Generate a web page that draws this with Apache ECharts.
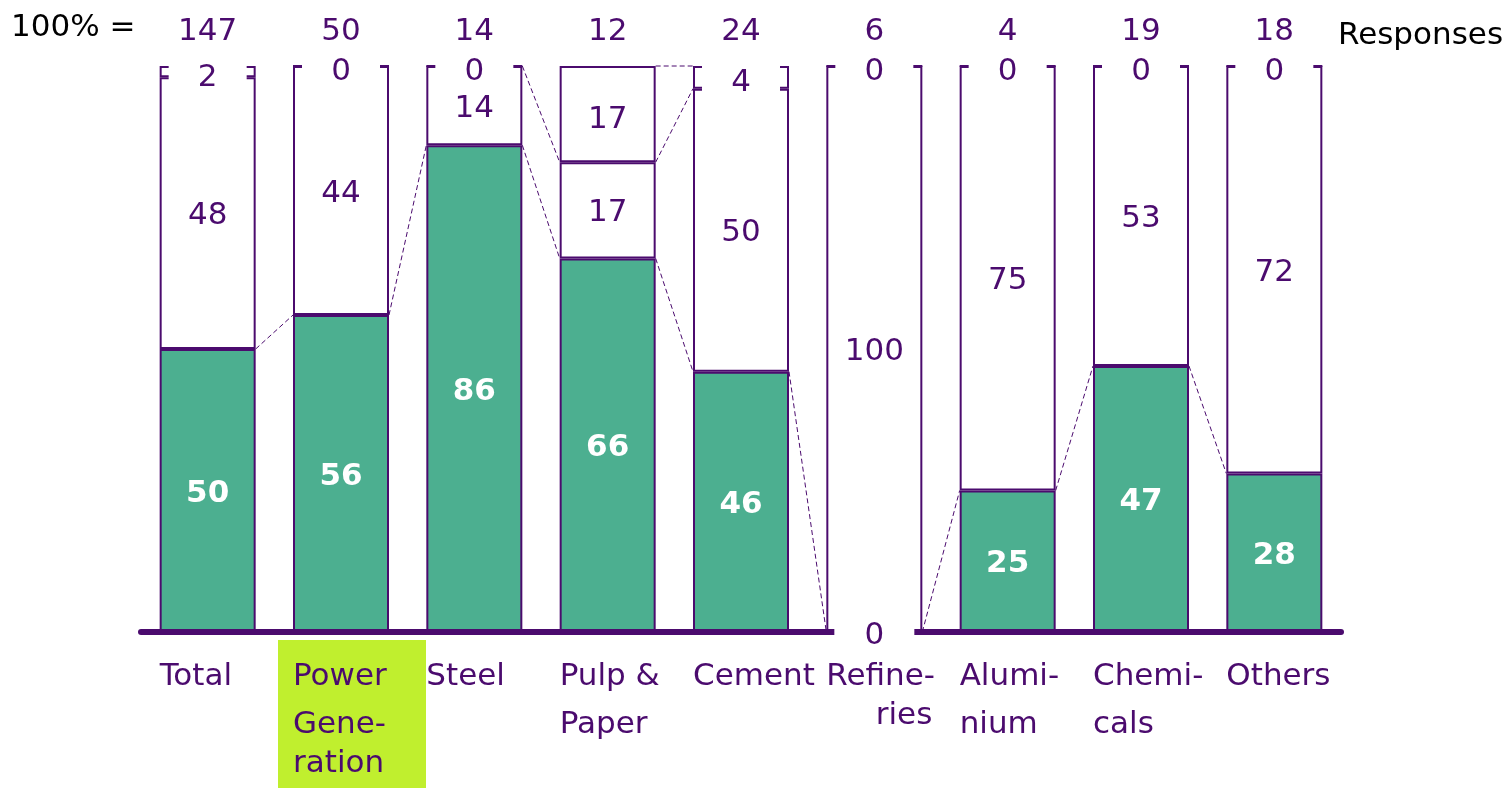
<!DOCTYPE html>
<html>
<head>
<meta charset="utf-8">
<script src="https://cdn.jsdelivr.net/npm/echarts@6/dist/echarts.min.js"></script>
<style>
  html, body { margin: 0; padding: 0; background: #ffffff; }
  #chart { width: 1511px; height: 788px; }
</style>
</head>
<body>
<div id="chart"></div>
<script>
// Responses by sector, split into three answer shares (percent of each sector's responses)
const categories = ['Total', 'Power Generation', 'Steel', 'Pulp & Paper', 'Cement', 'Refineries', 'Aluminium', 'Chemicals', 'Others'];
const categoryLabelLines = [['Total'], ['Power', 'Gene-', 'ration'], ['Steel'], ['Pulp &', 'Paper'], ['Cement'], ['Refine-', 'ries'], ['Alumi-', 'nium'], ['Chemi-', 'cals'], ['Others']];
const responses = [147, 50, 14, 12, 24, 6, 4, 19, 18];
const bottomShare = [50, 56, 86, 66, 46, 0, 25, 47, 28];
const middleShare = [48, 44, 14, 17, 50, 100, 75, 53, 72];
const topShare = [2, 0, 0, 17, 4, 0, 0, 0, 0];
const highlightedCategory = 'Power Generation';
// Dashed links between neighbouring bars: [left category index, stack level]
// level 0 = top of bottom share, 1 = top of middle share, 2 = top of the bar
const connectors = [[0, 0], [1, 0], [2, 0], [3, 0], [4, 0], [5, 0], [6, 0], [7, 0], [2, 1], [3, 1], [3, 2]];

// Styling
const PURPLE = '#4B0B6E';
const GREEN = '#4CAF90';
const LIME = '#C0EF2E';
const FONT = '"DejaVu Sans", Verdana, sans-serif';
const FS = 31;
const BAR_RATIO = 0.72;
// Per-category label line layout (line gaps in px, per-line alignment)
const labelLayout = {
  1: { gaps: [48, 39] },
  5: { gaps: [39], align: ['left', 'right'], rightEdge: 106 }
};

function stackLevel(i, level) {
  const parts = [bottomShare[i], middleShare[i], topShare[i]];
  let sum = 0;
  for (let k = 0; k <= level; k++) sum += parts[k];
  return sum;
}

function textStyle(extra) {
  return Object.assign({
    font: FS + 'px ' + FONT,
    fill: PURPLE
  }, extra);
}

const chart = echarts.init(document.getElementById('chart'), null, { renderer: 'canvas' });

const option = {
  animation: false,
  backgroundColor: '#ffffff',
  grid: { left: 141, right: 170, top: 66, bottom: 156, outerBoundsMode: 'none', containLabel: false },
  xAxis: [
    {
      type: 'category',
      data: categories,
      z: 3,
      axisLine: { show: true, lineStyle: { color: PURPLE, width: 6, cap: 'round' } },
      axisTick: { show: false },
      axisLabel: { show: false },
      splitLine: { show: false }
    },
    {
      type: 'category',
      position: 'top',
      data: categories,
      axisLine: { show: false },
      axisTick: { show: false },
      splitLine: { show: false },
      axisLabel: {
        interval: 0,
        margin: 34,
        verticalAlign: 'middle',
        color: PURPLE,
        fontSize: FS,
        fontFamily: FONT,
        formatter: (v, idx) => String(responses[idx])
      }
    }
  ],
  yAxis: { type: 'value', min: 0, max: 100, show: false },
  graphic: [
    {
      type: 'text', x: 11, y: 28,
      style: textStyle({ text: '100% =', fill: '#000000', align: 'left', textAlign: 'left', verticalAlign: 'middle', textVerticalAlign: 'middle' })
    },
    {
      type: 'text', x: 1338, y: 36,
      style: textStyle({ text: 'Responses', fill: '#000000', align: 'left', textAlign: 'left', verticalAlign: 'middle', textVerticalAlign: 'middle' })
    }
  ],
  series: [
    {
      name: 'bottom',
      type: 'bar',
      stack: 'share',
      barWidth: (BAR_RATIO * 100) + '%',
      z: 2,
      data: bottomShare,
      itemStyle: { color: GREEN, borderColor: PURPLE, borderWidth: 2 },
      label: {
        show: true, position: 'inside', offset: [0, 3],
        color: '#ffffff', fontWeight: 'bold', fontSize: FS, fontFamily: FONT,
        formatter: p => (p.value === 0 ? '' : String(p.value))
      }
    },
    {
      name: 'middle',
      type: 'bar',
      stack: 'share',
      barWidth: (BAR_RATIO * 100) + '%',
      z: 2,
      data: middleShare,
      itemStyle: { color: '#ffffff', borderColor: PURPLE, borderWidth: 2 },
      label: {
        show: true, position: 'inside', offset: [0, 3],
        color: PURPLE, fontSize: FS, fontFamily: FONT
      }
    },
    {
      name: 'top',
      type: 'bar',
      stack: 'share',
      barWidth: (BAR_RATIO * 100) + '%',
      z: 2,
      data: topShare,
      itemStyle: { color: '#ffffff', borderColor: PURPLE, borderWidth: 2 },
      label: {
        show: true, position: 'inside', offset: [0, 6],
        color: PURPLE, fontSize: FS, fontFamily: FONT,
        backgroundColor: '#ffffff', width: 78, height: 40, lineHeight: 40,
        align: 'center', verticalAlign: 'middle'
      }
    },
    {
      name: 'connectors',
      type: 'custom',
      z: 1,
      silent: true,
      clip: false,
      data: connectors,
      encode: { x: 0 },
      renderItem(params, api) {
        const i = api.value(0);
        const level = api.value(1);
        const a = api.coord([i, stackLevel(i, level)]);
        const b = api.coord([i + 1, stackLevel(i + 1, level)]);
        const half = api.size([1, 0])[0] * BAR_RATIO / 2;
        return {
          type: 'line',
          shape: { x1: a[0] + half, y1: a[1], x2: b[0] - half, y2: b[1] },
          style: { stroke: PURPLE, lineWidth: 1, lineDash: [5, 3] }
        };
      }
    },
    {
      name: 'categoryLabels',
      type: 'custom',
      z: 10,
      silent: true,
      clip: false,
      data: categories.map((c, i) => [i, 0]),
      encode: { x: 0, y: 1 },
      renderItem(params, api) {
        const i = api.value(0);
        const base = api.coord([i, 0]);
        const band = api.size([1, 0])[0];
        const left = base[0] - band * BAR_RATIO / 2;
        const layout = labelLayout[i] || {};
        const children = [];
        if (categories[i] === highlightedCategory) {
          children.push({
            type: 'rect',
            shape: { x: base[0] - 63, y: base[1] + 8, width: 148, height: 200 },
            style: { fill: LIME }
          });
        }
        let y = base[1] + 45;
        categoryLabelLines[i].forEach((line, k) => {
          if (k > 0) y += (layout.gaps && layout.gaps[k - 1]) || 47.5;
          const align = (layout.align && layout.align[k]) || 'left';
          const x = align === 'right' ? left + layout.rightEdge : left;
          children.push({
            type: 'text',
            style: textStyle({ text: line, x: x, y: y, align: align, textAlign: align, verticalAlign: 'middle', textVerticalAlign: 'middle' })
          });
        });
        // a zero bottom share is labelled on the baseline itself
        if (bottomShare[i] === 0) {
          children.push({
            type: 'text',
            style: textStyle({
              text: String(bottomShare[i]), x: base[0], y: base[1] + 4,
              align: 'center', textAlign: 'center', verticalAlign: 'middle', textVerticalAlign: 'middle',
              backgroundColor: '#ffffff', width: 80, height: 30, lineHeight: 30
            })
          });
        }
        return { type: 'group', children: children };
      }
    }
  ]
};

chart.setOption(option);
</script>
</body>
</html>
